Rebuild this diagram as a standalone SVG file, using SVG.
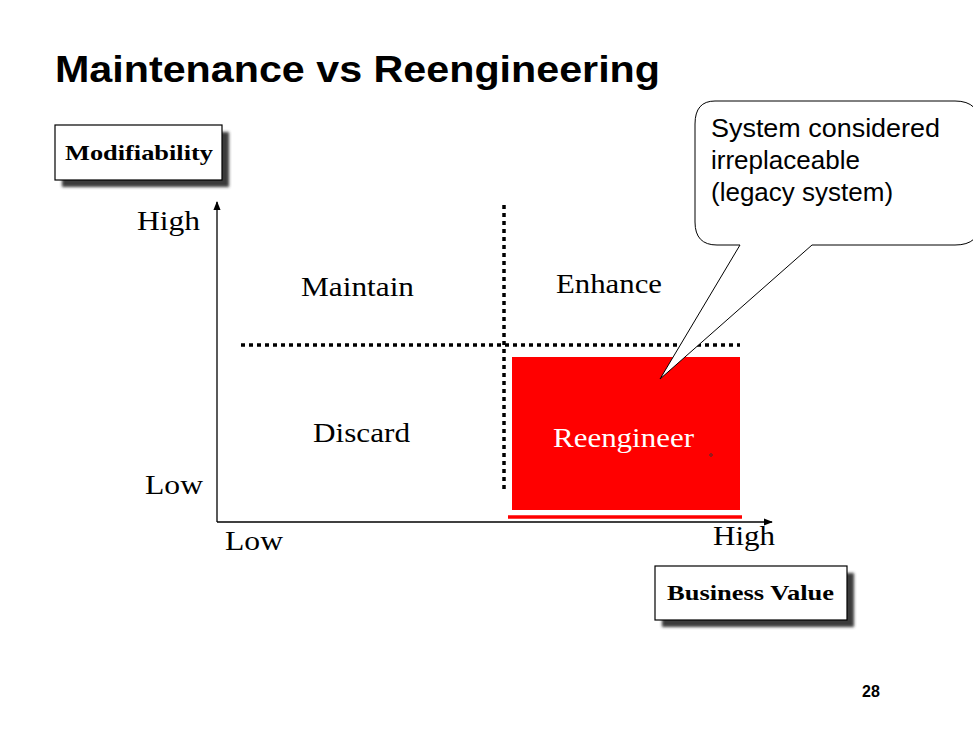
<svg xmlns="http://www.w3.org/2000/svg" width="973" height="729" viewBox="0 0 973 729">
<style>
.serif{font-family:"Liberation Serif","DejaVu Serif",serif;fill:#000}
.lbl{font-size:28px}
.box{fill:#fff;stroke:#000;stroke-width:1.2}
.boxt{font-family:"Liberation Serif","DejaVu Serif",serif;font-weight:bold;font-size:21px}
.dot{stroke:#000;stroke-width:3.5;stroke-dasharray:4 4;fill:none}
.axis{stroke:#000;stroke-width:1.3;fill:none}
.sans{font-family:"Liberation Sans",Arial,sans-serif}
</style>
<defs>
<filter id="sh" x="-20%" y="-20%" width="150%" height="160%">
<feGaussianBlur stdDeviation="1.8"/>
</filter>
<marker id="ar" viewBox="0 0 10 10" refX="9" refY="5" markerWidth="9" markerHeight="9" markerUnits="userSpaceOnUse" orient="auto">
<path d="M0,1 L10,5 L0,9 Z" fill="#000"/>
</marker>
</defs>
<rect width="973" height="729" fill="#fff"/>
<text x="55" y="82" class="sans" font-weight="bold" font-size="36" textLength="605" lengthAdjust="spacingAndGlyphs">Maintenance vs Reengineering</text>

<g id="modifiability">
<rect x="62" y="132" width="167" height="55" fill="#3a3a3a" filter="url(#sh)"/>
<rect x="55" y="125" width="167" height="55" class="box"/>
<text x="65" y="160" class="boxt" textLength="148" lengthAdjust="spacingAndGlyphs">Modifiability</text>
</g>

<g id="business-value">
<rect x="662" y="573" width="192" height="54" fill="#3a3a3a" filter="url(#sh)"/>
<rect x="655" y="566" width="192" height="54" class="box"/>
<text x="667" y="600" class="boxt" textLength="167" lengthAdjust="spacingAndGlyphs">Business Value</text>
</g>

<g id="reengineer">
<rect x="512" y="357" width="228" height="153" fill="#ff0000"/>
<text x="553" y="447" class="serif lbl" style="fill:#fff" textLength="141" lengthAdjust="spacingAndGlyphs">Reengineer</text>
<circle cx="711" cy="455" r="1.3" fill="none" stroke="#333" stroke-width="0.8"/>
</g>

<g id="connectors">
<line x1="217" y1="522" x2="217" y2="202" class="axis" marker-end="url(#ar)"/>
<line x1="217" y1="522" x2="772" y2="522" class="axis" marker-end="url(#ar)"/>
<line x1="504" y1="205" x2="504" y2="492" class="dot"/>
<line x1="241" y1="345" x2="740" y2="345" class="dot"/>
<line x1="508" y1="517" x2="742" y2="517" stroke="#ff0000" stroke-width="3.5"/>
</g>

<g id="labels">
<text x="137" y="230" class="serif lbl" textLength="63" lengthAdjust="spacingAndGlyphs">High</text>
<text x="145" y="494" class="serif lbl" textLength="58" lengthAdjust="spacingAndGlyphs">Low</text>
<text x="225" y="550" class="serif lbl" textLength="58" lengthAdjust="spacingAndGlyphs">Low</text>
<text x="713" y="545" class="serif lbl" textLength="62" lengthAdjust="spacingAndGlyphs">High</text>
<text x="301" y="296" class="serif lbl" textLength="113" lengthAdjust="spacingAndGlyphs">Maintain</text>
<text x="556" y="293" class="serif lbl" textLength="106" lengthAdjust="spacingAndGlyphs">Enhance</text>
<text x="313" y="442" class="serif lbl" textLength="97" lengthAdjust="spacingAndGlyphs">Discard</text>
</g>

<g id="callout">
<path d="M715,101 H955 Q980,101 980,126 V222 Q980,245 955,245 H812 L660,379 L740,245 H717 Q695,245 695,222 V124 Q695,101 715,101 Z" fill="#fff" stroke="#000" stroke-width="1"/>
<text class="sans" font-size="26" fill="#000"><tspan x="711" y="137" textLength="229" lengthAdjust="spacingAndGlyphs">System considered</tspan><tspan x="711" y="169">irreplaceable</tspan><tspan x="711" y="201">(legacy system)</tspan></text>
</g>

<text x="871" y="697" class="sans" font-weight="bold" font-size="16" text-anchor="middle">28</text>
</svg>
